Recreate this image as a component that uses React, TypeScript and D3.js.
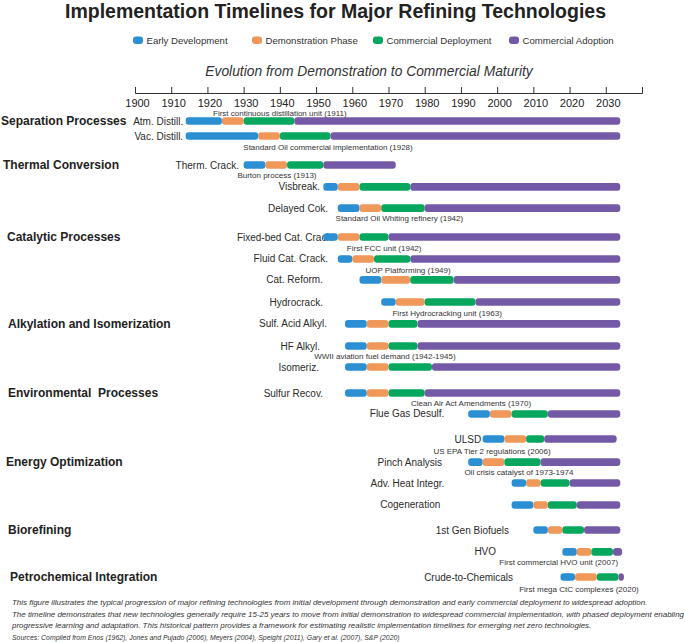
import { useRef, useEffect } from 'react'
import * as d3 from 'd3'

const technologies = [
  'Atm. Distill.', 'Vac. Distill.', 'Therm. Crack.', 'Visbreak.', 'Delayed Cok.',
  'Fixed-bed Cat. Crack.', 'Fluid Cat. Crack.', 'Cat. Reform.', 'Hydrocrack.',
  'Sulf. Acid Alkyl.', 'HF Alkyl.', 'Isomeriz.', 'Sulfur Recov.', 'Flue Gas Desulf.',
  'ULSD', 'Pinch Analysis', 'Adv. Heat Integr.', 'Cogeneration', '1st Gen Biofuels',
  'HVO', 'Crude-to-Chemicals',
]

// phase boundaries (years)
const earlyStart = [1914, 1914, 1930, 1952, 1956, 1952, 1956, 1962, 1968, 1958, 1958, 1958, 1958, 1992, 1996, 1992, 2004, 2004, 2010, 2018, 2017.5]
const demoStart = [1924, 1934, 1936, 1956, 1962, 1956, 1960, 1968, 1972, 1964, 1964, 1964, 1964, 1998, 2002, 1996, 2008, 2010, 2014, 2022, 2021.5]
const deployStart = [1930, 1940, 1942, 1962, 1968, 1962, 1966, 1976, 1980, 1970, 1970, 1970, 1970, 2004, 2008, 2002, 2012, 2014, 2018, 2026, 2027.5]
const adoptStart = [1944, 1954, 1952, 1976, 1980, 1970, 1976, 1988, 1994, 1978, 1978, 1982, 1980, 2014, 2013, 2012, 2020, 2022, 2024, 2032, 2033.5]
const adoptEnd = [2034, 2034, 1972, 2034, 2034, 2034, 2034, 2034, 2034, 2034, 2034, 2034, 2034, 2034, 2033, 2034, 2034, 2034, 2034, 2034.5, 2035]

const phases = ['Early Development', 'Demonstration Phase', 'Commercial Deployment', 'Commercial Adoption']
const phaseColors = ['#2a8fd3', '#f0975a', '#07a75d', '#7459a7']

const categories = [
  'Separation Processes', 'Thermal Conversion', 'Catalytic Processes',
  'Alkylation and Isomerization', 'Environmental  Processes', 'Energy Optimization',
  'Biorefining', 'Petrochemical Integration',
]
const categoryRow = [0, 2, 5, 9, 12, 15, 18, 20]

const annotations = [
  'First continuous distillation unit (1911)',
  'Standard Oil commercial implementation (1928)',
  'Burton process (1913)',
  'Standard Oil Whiting refinery (1942)',
  'First FCC unit (1942)',
  'UOP Platforming (1949)',
  'First Hydrocracking unit (1963)',
  'WWII aviation fuel demand (1942-1945)',
  'Clean Air Act Amendments (1970)',
  'US EPA Tier 2 regulations (2006)',
  'Oil crisis catalyst of 1973-1974',
  'First commercial HVO unit (2007)',
  'First mega CtC complexes (2020)',
]
const annotationRow = [0, 1, 2, 4, 5, 6, 8, 10, 12, 14, 15, 19, 20]

const tickYears = d3.range(1900, 2031, 10)

const footerLines = [
  'This figure illustrates the typical progression of major refining technologies from initial development through demonstration and early commercial deployment to widespread adoption.',
  'The timeline demonstrates that new technologies generally require 15-25 years to move from initial demonstration to widespread commercial implementation, with phased deployment enabling',
  'progressive learning and adaptation. This historical pattern provides a framework for estimating realistic implementation timelines for emerging net zero technologies.',
]
const sourcesLine = 'Sources: Compiled from Enos (1962), Jones and Pujado (2006), Meyers (2004), Speight (2011), Gary et al. (2007), S&P (2020)'

// layout (not data): vertical slot of each row, label anchor year, annotation placement
const rowSlot = [0, 0.66, 1.93, 2.89, 3.82, 5.09, 6.05, 6.97, 7.94, 8.9, 9.87, 10.79, 11.93, 12.85, 13.95, 14.96, 15.88, 16.84, 17.94, 18.9, 20]
const labelEndYear = [1913.3, 1913.3, 1928.7, 1951.1, 1953.3, 1955, 1953.3, 1951.9, 1951.9, 1953, 1951.1, 1950.8, 1951.9, 1985.4, 1995.6, 1984.8, 1985.4, 1984.3, 2003.3, 1999.7, 2004.4]
const annotationCenterYear = [1940, 1953.3, 1939.2, 1973, 1968.8, 1975.4, 1986.2, 1969, 1992.8, 1998.6, 2006, 2017, 2022.6]
const annotationDy = [-8, 11, 10, 10, 11, 11, 11, 10, 10, 12, 10, 10, 12]
const categoryX = [1, 3, 7, 8, 8, 6, 8, 10]

const FONT = '"Liberation Sans", Arial, Helvetica, sans-serif'

export default function App() {
  const svgRef = useRef<SVGSVGElement>(null)

  useEffect(() => {
    if (!svgRef.current) return
    const svg = d3.select(svgRef.current)
    svg.selectAll('*').remove()

    const width = 685
    const height = 642
    svg.attr('width', width).attr('height', height).attr('font-family', FONT)

    const x = d3.scaleLinear().domain([1900, 2040]).range([135, 642])
    const y = d3.scaleLinear().domain([0, 20]).range([121, 577])
    const barH = 7.6

    // Title
    svg.append('text')
      .attr('x', 335.5)
      .attr('y', 17.5)
      .attr('text-anchor', 'middle')
      .attr('font-size', '19.5px')
      .attr('font-weight', 'bold')
      .attr('fill', '#222')
      .text('Implementation Timelines for Major Refining Technologies')

    // Legend
    const legendX = [133, 252, 373, 509]
    const legend = svg.append('g')
    phases.forEach((p, i) => {
      legend.append('rect')
        .attr('x', legendX[i])
        .attr('y', 36.5)
        .attr('width', 10)
        .attr('height', 7.5)
        .attr('rx', 3)
        .attr('fill', phaseColors[i])
      legend.append('text')
        .attr('x', legendX[i] + 13.5)
        .attr('y', 40.5)
        .attr('dy', '0.35em')
        .attr('font-size', '9.6px')
        .attr('fill', '#333')
        .text(p)
    })

    // Subtitle
    svg.append('text')
      .attr('x', 369)
      .attr('y', 71)
      .attr('dy', '0.35em')
      .attr('text-anchor', 'middle')
      .attr('font-size', '13.8px')
      .attr('font-style', 'italic')
      .attr('fill', '#333')
      .text('Evolution from Demonstration to Commercial Maturity')

    // Axis
    const axisG = svg.append('g')
      .attr('transform', 'translate(0,93)')
      .call(
        d3.axisBottom(x)
          .tickValues(tickYears)
          .tickFormat((d) => String(d))
          .tickSizeInner(-6)
          .tickSizeOuter(-6)
          .tickPadding(6),
      )
    axisG.select('.domain').attr('stroke', '#333')
    axisG.selectAll('.tick line').attr('stroke', '#333')
    axisG.selectAll('.tick text')
      .attr('fill', '#222')
      .attr('font-size', '11px')
      .attr('font-family', FONT)
      .attr('dx', 2)

    // Category headers
    categories.forEach((c, i) => {
      svg.append('text')
        .attr('x', categoryX[i])
        .attr('y', y(rowSlot[categoryRow[i]]))
        .attr('dy', '0.35em')
        .attr('font-size', '12px')
        .attr('font-weight', 'bold')
        .attr('fill', '#222')
        .style('white-space', 'pre')
        .text(c)
    })

    // Technology labels
    technologies.forEach((t, i) => {
      svg.append('text')
        .attr('x', x(labelEndYear[i]))
        .attr('y', y(rowSlot[i]))
        .attr('dy', '0.35em')
        .attr('text-anchor', 'end')
        .attr('font-size', '10px')
        .attr('fill', '#2b2b2b')
        .text(t)
    })

    // Bars
    const bars = svg.append('g')
    technologies.forEach((_, i) => {
      const bounds = [earlyStart[i], demoStart[i], deployStart[i], adoptStart[i], adoptEnd[i]]
      for (let k = 0; k < 4; k++) {
        bars.append('rect')
          .attr('x', x(bounds[k]))
          .attr('y', y(rowSlot[i]) - barH / 2)
          .attr('width', Math.max(0, x(bounds[k + 1]) - x(bounds[k])))
          .attr('height', barH)
          .attr('rx', 3)
          .attr('fill', phaseColors[k])
      }
    })

    // Annotations
    annotations.forEach((a, i) => {
      svg.append('text')
        .attr('x', x(annotationCenterYear[i]))
        .attr('y', y(rowSlot[annotationRow[i]]) + annotationDy[i])
        .attr('dy', '0.35em')
        .attr('text-anchor', 'middle')
        .attr('font-size', '8px')
        .attr('fill', '#333')
        .text(a)
    })

    // Footer
    footerLines.forEach((line, i) => {
      svg.append('text')
        .attr('x', 12)
        .attr('y', 605 + i * 11.7)
        .attr('font-size', '7.95px')
        .attr('font-style', 'italic')
        .attr('fill', '#333')
        .text(line)
    })
    svg.append('text')
      .attr('x', 12)
      .attr('y', 639.5)
      .attr('font-size', '6.9px')
      .attr('font-style', 'italic')
      .attr('fill', '#333')
      .text(sourcesLine)
  }, [])

  return (
    <div style={{ position: 'absolute', left: 0, top: 0, background: '#fff' }}>
      <svg ref={svgRef} style={{ display: 'block' }} />
    </div>
  )
}
